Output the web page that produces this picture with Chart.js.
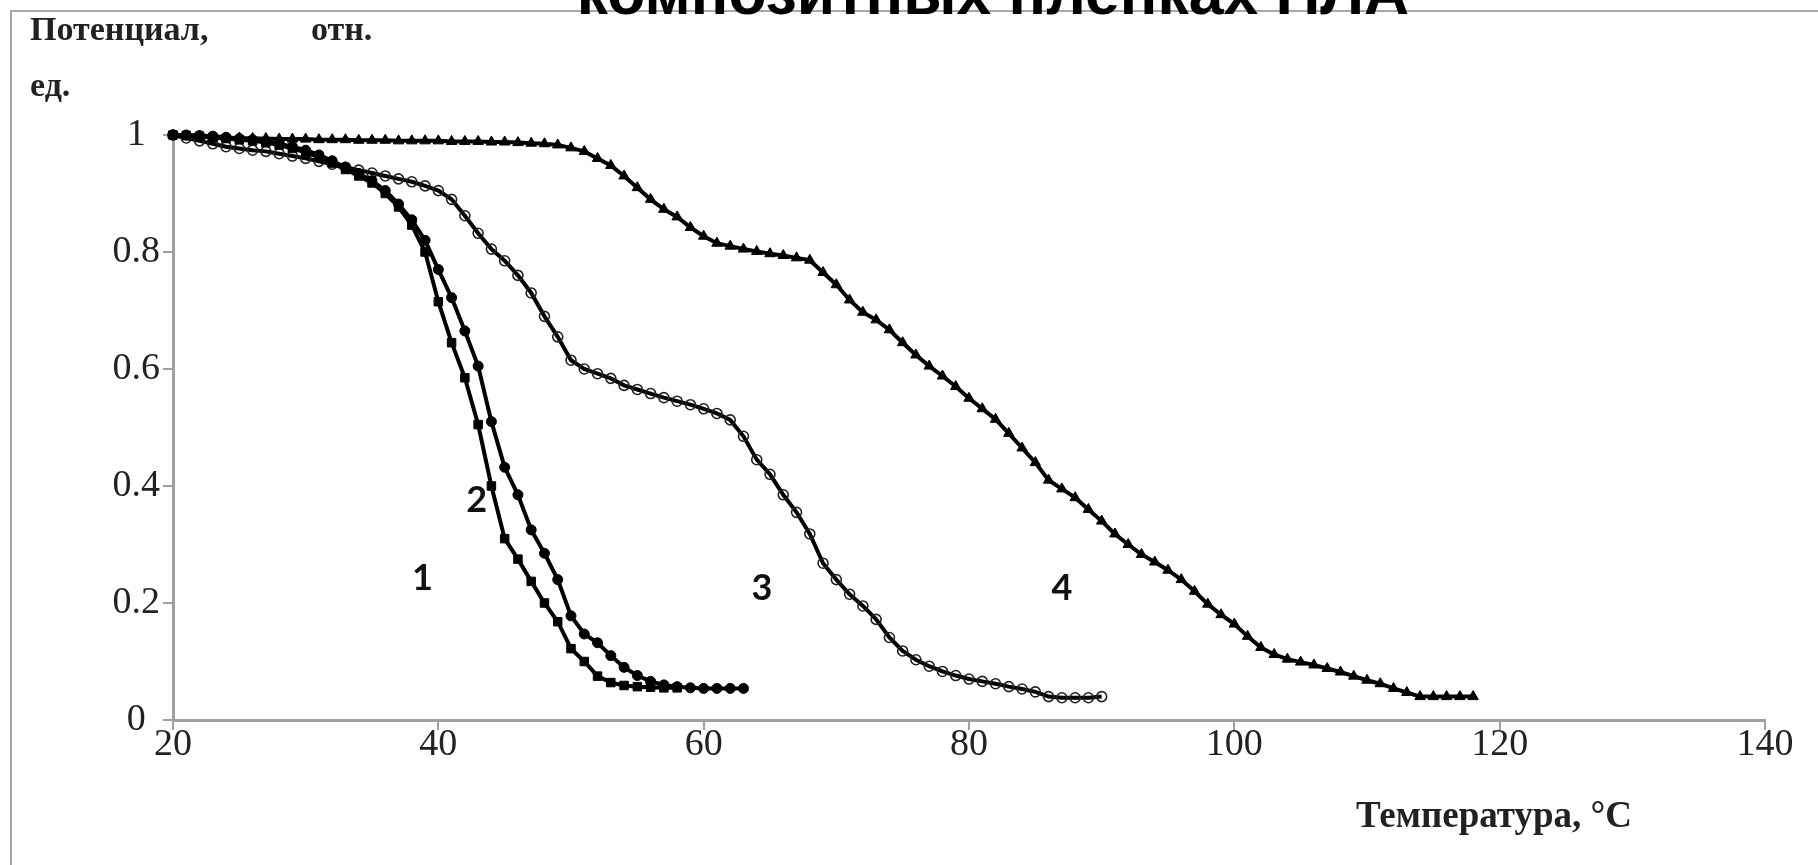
<!DOCTYPE html>
<html>
<head>
<meta charset="utf-8">
<script src="https://cdn.jsdelivr.net/npm/chart.js@4/dist/chart.umd.min.js"></script>
<style>
  html, body { margin: 0; padding: 0; background: #ffffff; overflow: hidden; }
  #wrap { position: relative; width: 1818px; height: 865px; }
</style>
</head>
<body>
<div id="wrap"><canvas id="c" width="1818" height="865"></canvas></div>
<script>
// ---------------- DATA ----------------
const temps = [20,21,22,23,24,25,26,27,28,29,30,31,32,33,34,35,36,37,38,39,
  40,41,42,43,44,45,46,47,48,49,50,51,52,53,54,55,56,57,58,59,
  60,61,62,63,64,65,66,67,68,69,70,71,72,73,74,75,76,77,78,79,
  80,81,82,83,84,85,86,87,88,89,90,91,92,93,94,95,96,97,98,99,
  100,101,102,103,104,105,106,107,108,109,110,111,112,113,114,115,116,117,118];

// curve 1 (20..58 °C)
const curve1 = [1.000,0.999,0.998,0.996,0.994,0.992,0.990,0.987,0.983,0.977,
  0.970,0.962,0.952,0.941,0.930,0.918,0.900,0.877,0.846,0.800,
  0.715,0.645,0.585,0.505,0.400,0.310,0.275,0.237,0.200,0.168,
  0.122,0.100,0.075,0.064,0.059,0.057,0.056,0.055,0.055];

// curve 2 (20..63 °C)
const curve2 = [1.000,1.000,0.999,0.998,0.996,0.994,0.992,0.989,0.985,0.980,
  0.974,0.966,0.956,0.945,0.934,0.922,0.905,0.882,0.855,0.820,
  0.770,0.722,0.665,0.605,0.510,0.432,0.385,0.325,0.285,0.240,
  0.178,0.147,0.132,0.110,0.090,0.076,0.066,0.060,0.057,0.055,
  0.054,0.054,0.054,0.054];

// curve 3 (20..90 °C)
const curve3 = [1.000,0.995,0.990,0.985,0.980,0.977,0.974,0.972,0.968,0.964,
  0.960,0.955,0.950,0.945,0.940,0.935,0.930,0.925,0.920,0.913,
  0.905,0.890,0.862,0.832,0.805,0.785,0.760,0.730,0.690,0.655,
  0.615,0.600,0.592,0.584,0.572,0.565,0.558,0.551,0.545,0.539,
  0.532,0.524,0.513,0.485,0.445,0.420,0.385,0.355,0.318,0.268,
  0.240,0.215,0.195,0.172,0.141,0.118,0.103,0.092,0.083,0.076,
  0.070,0.066,0.062,0.057,0.053,0.048,0.040,0.038,0.038,0.038,
  0.040];

// curve 4 (20..118 °C)
const curve4 = [1.000,0.998,0.997,0.996,0.995,0.995,0.994,0.994,0.993,0.993,
  0.993,0.992,0.992,0.992,0.991,0.991,0.991,0.990,0.990,0.990,
  0.990,0.989,0.989,0.989,0.988,0.988,0.987,0.986,0.985,0.983,
  0.978,0.972,0.960,0.948,0.930,0.910,0.890,0.873,0.860,0.842,
  0.827,0.815,0.810,0.805,0.801,0.797,0.794,0.790,0.786,0.765,
  0.744,0.718,0.697,0.684,0.667,0.645,0.624,0.605,0.588,0.570,
  0.550,0.532,0.514,0.490,0.465,0.440,0.410,0.395,0.380,0.360,
  0.340,0.318,0.300,0.283,0.270,0.256,0.240,0.220,0.198,0.180,
  0.164,0.143,0.124,0.112,0.104,0.099,0.094,0.088,0.082,0.075,
  0.068,0.062,0.054,0.047,0.040,0.040,0.040,0.040,0.040];

const curveNames = ['1','2','3','4'];
const curveLabelX = [38.8, 42.9, 64.4, 87.0];
const curveLabelY = [0.242, 0.376, 0.225, 0.225];

const xTicks = [20,40,60,80,100,120,140];
const yTickLabels = ['0','0.2','0.4','0.6','0.8','1'];

const titleText = 'композитных пленках ПЛА';
const yTitleLine1a = 'Потенциал,';
const yTitleLine1b = 'отн.';
const yTitleLine2 = 'ед.';
const xTitleText = 'Температура, °C';

// ---------------- BUILD ----------------
function pts(vals){ return vals.map((v,i)=>({x:temps[i], y:v})); }

const serif = '"Liberation Serif", "Times New Roman", serif';

const extras = {
  id: 'extras',
  beforeDraw(chart){
    const ctx = chart.ctx;
    ctx.save();
    ctx.fillStyle = '#fff';
    ctx.fillRect(0,0,chart.width,chart.height);
    ctx.strokeStyle = '#a8a8a8';
    ctx.lineWidth = 2;
    ctx.beginPath();
    ctx.moveTo(11, 865); ctx.lineTo(11, 11); ctx.lineTo(1818, 11);
    ctx.stroke();
    ctx.restore();
  },
  afterDraw(chart){
    const ctx = chart.ctx;
    const xs = chart.scales.x, ys = chart.scales.y;
    ctx.save();
    // main title (cut off at top)
    ctx.fillStyle = '#000';
    ctx.textAlign = 'center';
    ctx.textBaseline = 'alphabetic';
    ctx.font = 'bold 100px "Liberation Sans", Arial, sans-serif';
    const w = ctx.measureText(titleText).width;
    const fs = 100 * 833 / w;
    ctx.font = 'bold ' + fs.toFixed(1) + 'px "Liberation Sans", Arial, sans-serif';
    ctx.fillText(titleText, 993, 14);

    // y axis title
    ctx.textAlign = 'left';
    ctx.fillStyle = '#222';
    ctx.font = 'bold 34px ' + serif;
    ctx.fillText(yTitleLine1a, 30, 40);
    ctx.fillText(yTitleLine1b, 311, 40);
    ctx.fillText(yTitleLine2, 30, 96);

    // x axis title
    ctx.font = 'bold 37px ' + serif;
    ctx.fillText(xTitleText, 1356, 827);

    // curve labels
    ctx.fillStyle = '#111';
    ctx.textAlign = 'center';
    ctx.textBaseline = 'middle';
    ctx.font = 'bold 36px Lato, "Open Sans", sans-serif';
    curveNames.forEach((n,i)=>{
      ctx.fillText(n, xs.getPixelForValue(curveLabelX[i]), ys.getPixelForValue(curveLabelY[i]));
    });
    ctx.restore();
  }
};

const common = {
  borderColor: '#000',
  borderWidth: 4,
  tension: 0,
  fill: false,
  clip: false,
  pointBorderColor: '#000',
  pointBackgroundColor: '#000',
  pointBorderWidth: 1
};

new Chart(document.getElementById('c'), {
  type: 'line',
  data: {
    datasets: [
      Object.assign({}, common, {label: curveNames[0], data: pts(curve1), pointStyle: 'rect', pointRadius: 6}),
      Object.assign({}, common, {label: curveNames[1], data: pts(curve2), pointStyle: 'circle', pointRadius: 5}),
      Object.assign({}, common, {label: curveNames[2], data: pts(curve3), pointStyle: 'circle', pointRadius: 5,
        pointBackgroundColor: 'rgba(255,255,255,0)', pointBorderColor: '#222', pointBorderWidth: 1.6}),
      Object.assign({}, common, {label: curveNames[3], data: pts(curve4), pointStyle: 'triangle', pointRadius: 6})
    ]
  },
  options: {
    responsive: false,
    animation: false,
    devicePixelRatio: 1,
    events: [],
    layout: { padding: { left: 0, right: 53, top: 135, bottom: 0 } },
    plugins: { legend: { display: false }, tooltip: { enabled: false }, title: { display: false } },
    scales: {
      x: {
        type: 'linear',
        min: 20, max: 140,
        afterBuildTicks(axis){ axis.ticks = xTicks.map(v=>({value:v})); },
        afterFit(axis){ axis.height = 145; },
        border: { color: '#a0a0a0', width: 3 },
        grid: { drawOnChartArea: false, color: '#a0a0a0', lineWidth: 2, tickLength: 10 },
        ticks: { color: '#222', font: { family: serif, size: 38 }, padding: -8, maxRotation: 0, autoSkip: false,
          callback: (v)=> String(v) }
      },
      y: {
        type: 'linear',
        min: 0, max: 1,
        afterBuildTicks(axis){ axis.ticks = yTickLabels.map(s=>({value: parseFloat(s)})); },
        afterFit(axis){ axis.width = 173; },
        border: { color: '#a0a0a0', width: 3 },
        grid: { drawOnChartArea: false, color: '#a0a0a0', lineWidth: 2, tickLength: 10 },
        ticks: { color: '#222', font: { family: serif, size: 38 }, padding: 3, autoSkip: false, crossAlign: 'center',
          callback: (v)=> { const i = yTickLabels.findIndex(s=>Math.abs(parseFloat(s)-v)<1e-6); return i>=0 ? yTickLabels[i] : ''; } }
      }
    }
  },
  plugins: [extras]
});
</script>
</body>
</html>
